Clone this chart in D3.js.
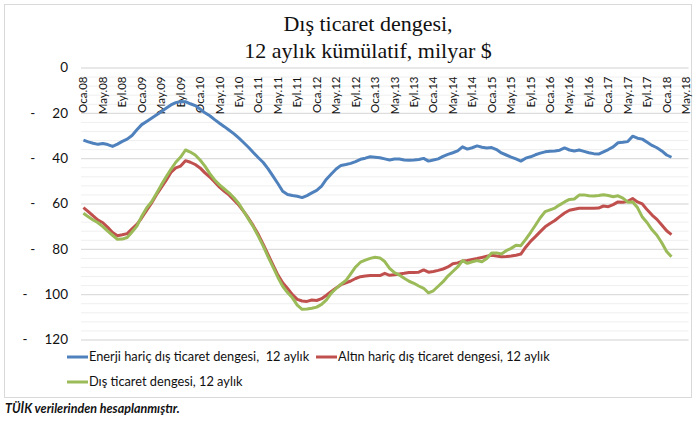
<!DOCTYPE html>
<html>
<head>
<meta charset="utf-8">
<script src="https://cdn.jsdelivr.net/npm/d3@7"></script>
<style>
  body { margin: 0; background: #fff; }
  svg { font-family: Lato, "Open Sans", sans-serif; }
</style>
</head>
<body>
<div id="chart"></div>
<script>
// aylar: Oca.08 - May.18 (eksen), veri Oca.08 - Şub.18
var monthCount = 125;
var tickLabels = ['Oca.08','May.08','Eyl.08','Oca.09','May.09','Eyl.09','Oca.10','May.10','Eyl.10',
                  'Oca.11','May.11','Eyl.11','Oca.12','May.12','Eyl.12','Oca.13','May.13','Eyl.13',
                  'Oca.14','May.14','Eyl.14','Oca.15','May.15','Eyl.15','Oca.16','May.16','Eyl.16',
                  'Oca.17','May.17','Eyl.17','Oca.18','May.18'];
var yTicks = [0, -20, -40, -60, -80, -100, -120];

var seriesNames = ['Enerji hariç dış ticaret dengesi,  12 aylık',
                   'Altın hariç dış ticaret dengesi, 12 aylık',
                   'Dış ticaret dengesi, 12 aylık'];

var enerjiHaric = [-32.0,-32.8,-33.4,-33.9,-33.5,-34.0,-34.8,-33.8,-32.6,-31.6,-30.0,-27.5,-25.2,-23.8,-22.4,-21.0,
  -19.5,-18.0,-16.5,-15.5,-15.0,-15.1,-16.0,-16.8,-18.3,-20.0,-21.3,-23.0,-24.6,-26.1,-27.7,-29.3,
  -31.2,-33.2,-35.3,-37.6,-39.8,-41.9,-44.7,-47.9,-51.2,-54.6,-56.0,-56.5,-56.8,-57.4,-56.5,-55.3,
  -54.2,-52.3,-49.3,-47.0,-44.8,-43.2,-42.8,-42.3,-41.5,-40.5,-40.0,-39.4,-39.6,-39.8,-40.3,-40.8,
  -40.4,-40.4,-40.8,-40.9,-40.8,-40.6,-40.1,-41.3,-40.8,-40.3,-39.2,-38.3,-37.6,-36.8,-35.0,-36.0,
  -35.4,-34.6,-35.2,-35.5,-35.3,-36.2,-37.7,-38.6,-39.5,-40.3,-41.3,-40.0,-39.4,-38.5,-37.8,-37.2,
  -37.0,-36.8,-36.5,-35.5,-36.4,-36.8,-36.4,-37.0,-37.6,-38.0,-38.2,-37.2,-36.2,-35.0,-33.2,-33.0,
  -32.7,-30.3,-31.2,-31.6,-33.0,-34.4,-35.4,-36.8,-38.6,-39.6];

var altinHaric = [-61.8,-63.6,-65.5,-67.3,-68.5,-70.5,-72.8,-74.2,-73.8,-73.3,-71.2,-69.2,-66.3,-63.1,-59.9,-56.2,
  -53.0,-49.8,-46.3,-44.3,-43.5,-41.1,-41.8,-42.8,-44.3,-46.5,-48.3,-50.5,-52.8,-54.6,-56.3,-58.6,
  -60.8,-63.6,-66.6,-70.0,-73.7,-78.0,-82.6,-87.1,-91.5,-95.0,-97.5,-100.2,-102.3,-103.0,-103.2,-102.6,
  -102.8,-102.0,-100.5,-98.8,-97.3,-95.8,-95.0,-94.2,-93.1,-92.3,-92.0,-91.8,-91.8,-91.8,-90.8,-91.7,
  -91.4,-91.1,-90.8,-90.4,-90.4,-90.3,-89.3,-90.3,-90.0,-89.5,-88.9,-88.0,-86.6,-86.2,-85.4,-85.1,
  -84.7,-84.3,-83.8,-83.3,-82.8,-83.2,-83.5,-83.4,-83.2,-82.8,-82.3,-79.3,-76.7,-74.6,-72.4,-70.3,
  -68.8,-67.5,-65.8,-64.2,-63.0,-62.5,-62.1,-62.1,-62.1,-62.1,-62.0,-61.1,-61.4,-60.5,-59.3,-59.5,
  -59.0,-57.8,-59.3,-60.2,-62.8,-65.1,-67.0,-69.5,-72.0,-73.7];

var disTicaret = [-64.3,-65.8,-67.3,-68.5,-70.2,-72.2,-74.0,-75.8,-75.7,-75.0,-72.6,-70.0,-65.6,-62.0,-59.3,-55.7,
  -51.9,-48.3,-44.9,-41.8,-39.5,-36.4,-37.3,-38.6,-40.8,-43.5,-46.8,-49.6,-51.8,-53.6,-55.4,-57.6,
  -60.1,-63.5,-67.0,-70.5,-74.5,-78.8,-83.5,-88.0,-92.5,-96.5,-99.3,-101.6,-104.8,-106.7,-106.5,-106.2,
  -105.7,-104.5,-102.5,-99.5,-97.5,-95.6,-94.0,-91.0,-88.0,-85.9,-85.0,-84.2,-83.7,-84.0,-85.6,-88.6,
  -90.5,-91.5,-93.0,-94.3,-95.2,-96.4,-97.4,-99.4,-98.5,-96.5,-94.5,-92.0,-90.0,-88.0,-85.2,-86.4,
  -85.7,-85.2,-85.7,-84.3,-81.8,-81.8,-82.3,-80.8,-79.8,-78.4,-78.6,-75.8,-72.8,-69.6,-66.3,-63.6,
  -62.8,-62.0,-60.6,-59.3,-58.2,-58.0,-56.3,-56.2,-56.6,-56.7,-56.5,-56.1,-56.5,-57.0,-56.6,-57.6,
  -59.4,-59.3,-61.8,-66.0,-68.5,-71.6,-74.0,-77.3,-81.2,-83.5];

var colors = ['#4F81BD', '#C0504D', '#9BBB59'];

var W = 694, H = 430;
var svg = d3.select('#chart').append('svg')
            .attr('width', W)
            .attr('height', H);

// cerceve
svg.append('rect')
   .attr('x', 4.5).attr('y', 4.5)
   .attr('width', 687).attr('height', 393)
   .attr('fill', '#fff')
   .attr('stroke', '#d9d9d9');

var plotLeft = 81, plotRight = 688.5, plotTop = 67.5, plotBottom = 339.5;

var x = d3.scaleBand()
          .domain(d3.range(monthCount))
          .range([plotLeft, plotRight])
          .paddingInner(0).paddingOuter(0);
var bw = x.bandwidth();

var y = d3.scaleLinear()
          .domain([0, -120])
          .range([plotTop, plotBottom]);

// ara cizgiler (her 4)
svg.append('g')
   .attr('transform', 'translate(' + plotLeft + ',0)')
   .call(d3.axisLeft(y).tickValues(d3.range(0, -121, -4)).tickSize(-(plotRight - plotLeft)).tickFormat(''))
   .call(function(g) {
       g.select('.domain').remove();
       g.selectAll('line').attr('stroke', '#efefef');
   });

// ana cizgiler (her 20)
svg.append('g')
   .attr('transform', 'translate(' + plotLeft + ',0)')
   .call(d3.axisLeft(y).tickValues(yTicks).tickSize(-(plotRight - plotLeft)).tickFormat(''))
   .call(function(g) {
       g.select('.domain').remove();
       g.selectAll('line').attr('stroke', '#d9d9d9');
   });

// y etiketleri
var yAxis = svg.append('g')
   .attr('transform', 'translate(' + plotLeft + ',0)')
   .call(d3.axisLeft(y).tickValues(yTicks).tickSize(0).tickPadding(13)
         .tickFormat(function(d) { return Math.abs(d); }));
yAxis.select('.domain').remove();
yAxis.selectAll('text')
     .attr('font-size', 13.5)
     .attr('font-family', 'Lato')
     .attr('fill', '#111');
// eksi isareti, sayinin solunda
yAxis.selectAll('.tick').each(function(d) {
    if (d === 0) return;
    var t = d3.select(this).select('text');
    var len = t.node().getComputedTextLength();
    d3.select(this).append('text')
       .attr('x', -13 - len - 17)
       .attr('dy', '0.32em')
       .attr('text-anchor', 'end')
       .attr('font-size', 13.5)
       .attr('font-family', 'Lato')
       .attr('fill', '#111')
       .text('-');
});

// x etiketleri (dikey)
var xAxis = svg.append('g')
   .attr('transform', 'translate(0,' + plotTop + ')')
   .call(d3.axisBottom(x).tickValues(d3.range(0, monthCount, 4)).tickSize(0)
         .tickFormat(function(i) { return tickLabels[i / 4]; }));
xAxis.select('.domain').remove();
xAxis.selectAll('text')
     .attr('transform', 'rotate(-90)')
     .attr('text-anchor', 'end')
     .attr('x', -9)
     .attr('y', 0)
     .attr('dy', '0.35em')
     .attr('font-size', 11.5)
     .attr('font-family', 'Lato')
     .attr('fill', '#111');

// cizgiler
var line = d3.line()
             .x(function(d, i) { return x(i) + bw / 2; })
             .y(function(d) { return y(d); });

[enerjiHaric, altinHaric, disTicaret].forEach(function(s, k) {
    svg.append('path')
       .datum(s)
       .attr('d', line)
       .attr('fill', 'none')
       .attr('stroke', colors[k])
       .attr('stroke-width', 3)
       .attr('stroke-linejoin', 'round');
});

// baslik
var title = svg.append('text')
   .attr('text-anchor', 'middle')
   .attr('font-family', '"Liberation Serif", serif')
   .attr('font-size', 22)
   .attr('fill', '#111');
title.append('tspan').attr('x', 368).attr('y', 31).text('Dış ticaret dengesi,');
title.append('tspan').attr('x', 368).attr('y', 58).text('12 aylık kümülatif, milyar $');

// lejant
var legendPos = [[67, 357], [316, 357], [67, 382]];
var leg = svg.selectAll('.leg')
   .data(seriesNames)
   .enter().append('g')
   .attr('class', 'leg')
   .attr('transform', function(d, i) { return 'translate(' + legendPos[i][0] + ',' + legendPos[i][1] + ')'; });
leg.append('line')
   .attr('x1', 0).attr('x2', 21)
   .attr('stroke', function(d, i) { return colors[i]; })
   .attr('stroke-width', 3);
leg.append('text')
   .attr('x', 22)
   .attr('dy', '0.35em')
   .attr('font-size', 12.8)
   .attr('fill', '#111')
   .style('white-space', 'pre')
   .text(function(d) { return d; });

// kaynak
svg.append('text')
   .attr('x', 5).attr('y', 413)
   .attr('font-size', 12.5)
   .attr('font-weight', 'bold')
   .attr('font-style', 'italic')
   .attr('fill', '#111')
   .text('TÜİK verilerinden hesaplanmıştır.');
</script>
</body>
</html>
